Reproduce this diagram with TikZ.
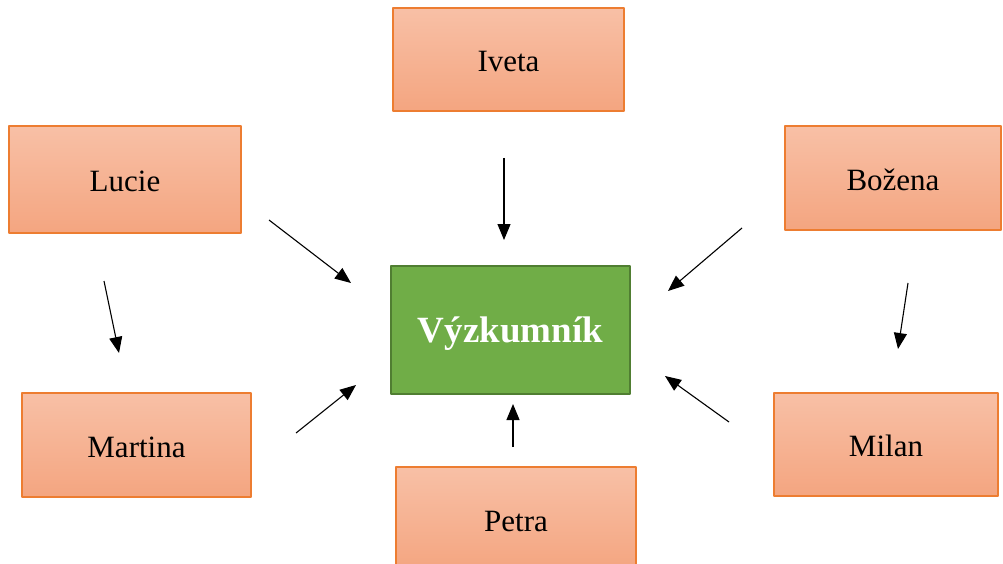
\documentclass[tikz,border=0pt]{standalone}
\usepackage{fontspec}
\setmainfont{Liberation Serif}
\usetikzlibrary{arrows.meta,positioning}
\definecolor{orline}{RGB}{237,125,49}
\definecolor{ortop}{RGB}{248,192,166}
\definecolor{orbot}{RGB}{244,165,128}
\definecolor{grfill}{RGB}{112,173,71}
\definecolor{grline}{RGB}{80,126,50}
\tikzset{
  person/.style={draw=orline,line width=1.2pt,top color=ortop,bottom color=orbot,
    font=\fontsize{31}{37}\selectfont,inner sep=0pt,text height=24pt,text depth=0pt},
  arr/.style={line width=1.1pt,-{Triangle[length=16pt,width=13pt]}}
}
\begin{document}
\begin{tikzpicture}[x=1pt,y=-1pt,line join=round]
\clip (0,0) rectangle (1003,564);
\fill[white] (0,0) rectangle (1003,564);
% persons
\node[person,minimum width=231pt,minimum height=103pt] (iveta) at (508.5,59.5) {Iveta};
\node[person,minimum width=232pt,minimum height=107pt] (lucie) at (125,179.5) {Lucie};
\node[person,minimum width=216pt,minimum height=104pt] (bozena) at (893,178) {Božena};
\node[person,minimum width=229pt,minimum height=104pt] (martina) at (136.5,445) {Martina};
\node[person,minimum width=224pt,minimum height=103pt] (milan) at (886,444.5) {Milan};
\node[person,minimum width=240pt,minimum height=104pt] (petra) at (516,519) {Petra};
\node[draw=grline,line width=1.2pt,fill=grfill,text=white,minimum width=239pt,minimum height=128pt,
  font=\fontsize{37}{43}\selectfont\bfseries,text height=30pt,text depth=6pt] (vyzkumnik) at (510.5,330) {Výzkumník};
% arrows
\coordinate (a1) at (504,158); \coordinate (b1) at (504,240);
\coordinate (a2) at (742,228); \coordinate (b2) at (668,291);
\coordinate (a3) at (908,283); \coordinate (b3) at (898,349);
\coordinate (a4) at (104,281); \coordinate (b4) at (119,353);
\coordinate (a5) at (269,220); \coordinate (b5) at (351,283);
\coordinate (a6) at (296,433); \coordinate (b6) at (356,385);
\coordinate (a7) at (513,447); \coordinate (b7) at (513,404);
\coordinate (a8) at (729,422); \coordinate (b8) at (665,376);
\foreach \i in {1,...,8}{\draw[arr] (a\i)--(b\i);}
\end{tikzpicture}
\end{document}
